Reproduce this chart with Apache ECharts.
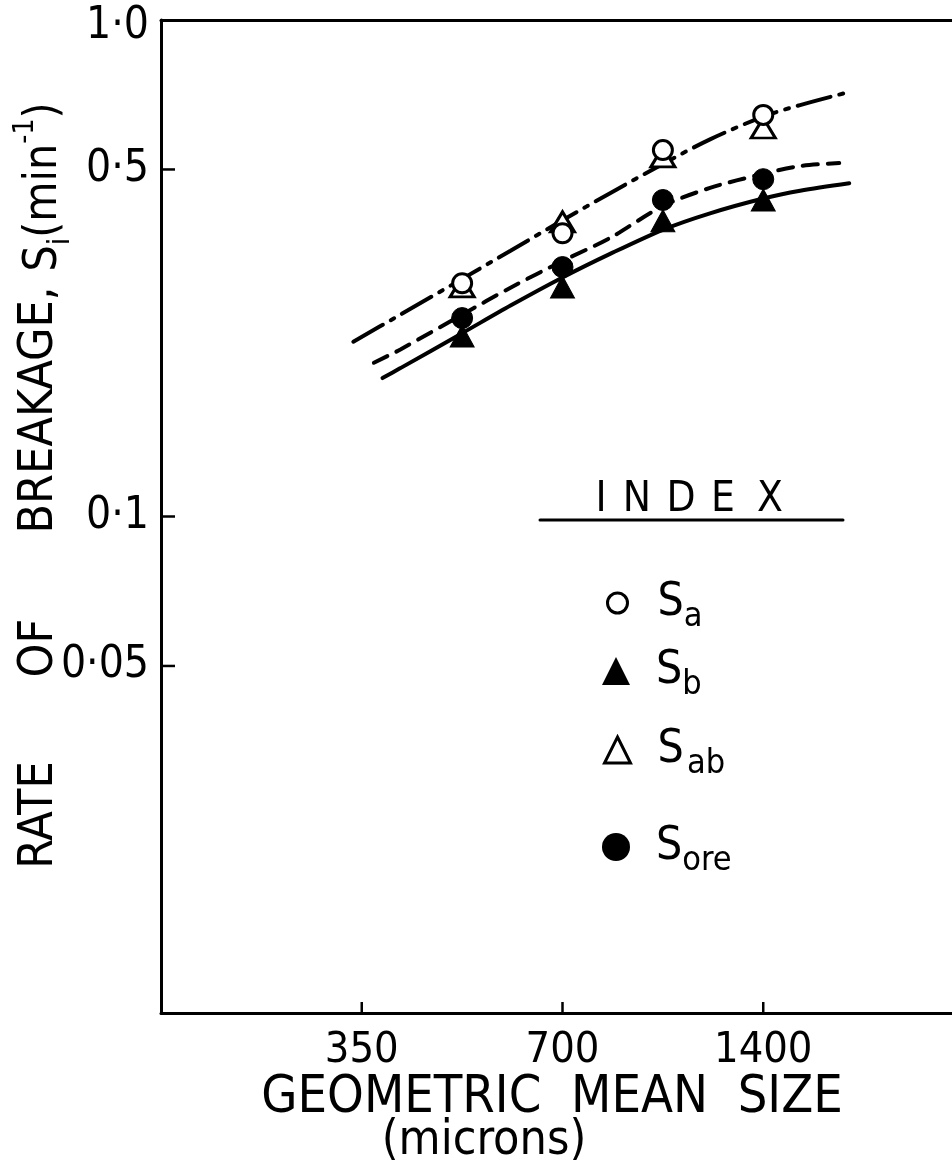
<!DOCTYPE html>
<html>
<head>
<meta charset="utf-8">
<script src="https://cdn.jsdelivr.net/npm/echarts@6/dist/echarts.min.js"></script>
<style>
  html, body { margin: 0; padding: 0; background: #fff; }
  #chart { width: 952px; height: 1169px; }
</style>
</head>
<body>
<div id="chart"></div>
<script>
// Measured rates of breakage vs. geometric mean particle size
const sizes = [495, 700, 990, 1400];
const sA   = [0.295, 0.372, 0.547, 0.644];
const sB   = [0.231, 0.290, 0.394, 0.434];
const sAB  = [0.290, 0.392, 0.530, 0.606];
const sOre = [0.251, 0.318, 0.434, 0.478];

// Fitted curves
const fitSizesAB  = [340, 400, 495, 585, 700, 825, 990, 1165, 1400, 1590, 1860];
const fitAB       = [0.225, 0.255, 0.301, 0.343, 0.395, 0.448, 0.513, 0.575, 0.639, 0.674, 0.713];
const fitSizesOre = [365, 400, 495, 585, 700, 825, 990, 1165, 1400, 1590, 1820];
const fitOre      = [0.204, 0.217, 0.255, 0.289, 0.327, 0.364, 0.422, 0.459, 0.490, 0.508, 0.515];
const fitSizesB   = [376, 400, 495, 585, 700, 825, 990, 1165, 1400, 1590, 1884];
const fitB        = [0.190, 0.199, 0.234, 0.266, 0.303, 0.338, 0.378, 0.408, 0.437, 0.453, 0.469];

// Axis ranges, ticks and labels
const xRange = [175, 2800];
const yRange = [0.01, 1];
const xTickValues = [350, 700, 1400];
const xTickLabels = ['350', '700', '1400'];
const yTickValues = [0.05, 0.1, 0.5];
const yLabelValues = [0.05, 0.1, 0.5, 1];
const yLabelTexts = ['0·05', '0·1', '0·5', '1·0'];

const FONT = '"Liberation Sans Narrow", "DejaVu Sans Condensed", "Liberation Sans", sans-serif';

const pairs = (xs, ys) => xs.map((x, i) => [x, ys[i]]);
const nearestIndex = (list, v) => {
  let best = 0;
  list.forEach((t, i) => {
    if (Math.abs(Math.log(t) - Math.log(v)) < Math.abs(Math.log(list[best]) - Math.log(v))) best = i;
  });
  return best;
};

const chart = echarts.init(document.getElementById('chart'), null, { renderer: 'canvas' });

const lineSeries = (name, xs, ys, type) => ({
  name: name,
  type: 'line',
  data: pairs(xs, ys),
  smooth: 0.3,
  showSymbol: false,
  symbol: 'none',
  silent: true,
  z: 2,
  lineStyle: { color: '#000', width: 4, type: type, cap: 'round' }
});

const markerSeries = (name, ys, symbol, size, filled, z) => ({
  name: name,
  type: 'scatter',
  data: pairs(sizes, ys),
  symbol: symbol,
  symbolSize: size,
  z: z,
  itemStyle: filled
    ? { color: '#000', borderColor: '#000', borderWidth: 1, opacity: 1 }
    : { color: '#fff', borderColor: '#000', borderWidth: 3, opacity: 1 }
});

// Inward tick marks, drawn at axis values with a fixed pixel length
const tickSeries = (points, dx, dy) => ({
  type: 'custom',
  coordinateSystem: 'cartesian2d',
  silent: true,
  clip: false,
  z: 6,
  data: points,
  renderItem: (params, api) => {
    const p = api.coord([api.value(0), api.value(1)]);
    return {
      type: 'line',
      shape: { x1: p[0], y1: p[1], x2: p[0] + dx, y2: p[1] + dy },
      style: { stroke: '#000', lineWidth: 2.5 }
    };
  }
});

const legendItem = (name, icon, style, cy, size) => ({
  orient: 'vertical',
  left: 616 - size / 2,
  top: cy - size / 2,
  padding: 0,
  itemWidth: size,
  itemHeight: size,
  selectedMode: false,
  data: [{ name: name, icon: icon, itemStyle: style }],
  formatter: n => '{gap|}' + ({ Sa: '{s|S}{sub|a}', Sb: '{s|S}{sub|b}', Sab: '{s|S} {sub|ab}', Sore: '{s|S}{sub|ore}' })[n],
  textStyle: {
    rich: {
      gap: { width: 656 - 616 - size / 2 - 5 },
      s: { fontFamily: FONT, fontSize: 46, color: '#000', lineHeight: 62 },
      sub: { fontFamily: FONT, fontSize: 34, color: '#000', lineHeight: 26, verticalAlign: 'bottom' }
    }
  }
});

const indexLetters = ['I', 'N', 'D', 'E', 'X'];
const indexX = [601, 637, 681, 723, 770];

const option = {
  backgroundColor: '#fff',
  animation: false,
  grid: { left: 161, top: 20, width: 803, height: 993, containLabel: false, outerBoundsMode: 'none' },
  xAxis: [{
    type: 'log',
    logBase: 2,
    min: xRange[0],
    max: xRange[1],
    axisLine: { show: true, lineStyle: { color: '#000', width: 3 } },
    axisTick: { show: false },
    axisLabel: {
      show: true, customValues: xTickValues, margin: 16,
      formatter: v => xTickLabels[nearestIndex(xTickValues, v)],
      color: '#000', fontFamily: FONT, fontSize: 43
    },
    splitLine: { show: false },
    minorTick: { show: false }
  }, {
    type: 'log',
    logBase: 2,
    min: xRange[0],
    max: xRange[1],
    position: 'top',
    axisLine: { show: true, onZero: false, lineStyle: { color: '#000', width: 3 } },
    axisTick: { show: false },
    axisLabel: { show: false },
    splitLine: { show: false }
  }],
  yAxis: {
    type: 'log',
    logBase: 10,
    min: yRange[0],
    max: yRange[1],
    axisLine: { show: true, lineStyle: { color: '#000', width: 3 } },
    axisTick: { show: false },
    axisLabel: {
      show: true, customValues: yLabelValues, margin: 12,
      formatter: v => {
        const i = nearestIndex(yLabelValues, v);
        return i === yLabelValues.length - 1 ? '{top|' + yLabelTexts[i] + '}' : yLabelTexts[i];
      },
      rich: { top: { fontFamily: FONT, fontSize: 44, color: '#000', padding: [14, 0, 0, 0] } },
      color: '#000', fontFamily: FONT, fontSize: 44
    },
    splitLine: { show: false },
    minorTick: { show: false }
  },
  legend: [
    legendItem('Sa', 'circle', { color: '#fff', borderColor: '#000', borderWidth: 3 }, 590, 20),
    legendItem('Sb', 'triangle', { color: '#000', borderColor: '#000', borderWidth: 0 }, 662, 28),
    legendItem('Sab', 'triangle', { color: '#fff', borderColor: '#000', borderWidth: 3 }, 740, 26),
    legendItem('Sore', 'circle', { color: '#000', borderColor: '#000', borderWidth: 0 }, 838, 28)
  ],
  graphic: [
    ...indexLetters.map((ch, i) => ({
      type: 'text', x: indexX[i], y: 500, z: 10,
      style: { text: ch, fontFamily: FONT, fontSize: 42, fill: '#000', align: 'center', verticalAlign: 'middle' }
    })),
    {
      type: 'line', z: 10,
      shape: { x1: 540, y1: 520, x2: 843, y2: 520 },
      style: { stroke: '#000', lineWidth: 3, lineCap: 'round' }
    },
    {
      type: 'text', x: 40, y: 815, rotation: Math.PI / 2,
      style: { text: 'RATE', fontFamily: FONT, fontSize: 48, fill: '#000', align: 'center', verticalAlign: 'middle' }
    },
    {
      type: 'text', x: 40, y: 648, rotation: Math.PI / 2,
      style: { text: 'OF', fontFamily: FONT, fontSize: 48, fill: '#000', align: 'center', verticalAlign: 'middle' }
    },
    {
      type: 'text', x: 40, y: 410, rotation: Math.PI / 2,
      style: { text: 'BREAKAGE,', fontFamily: FONT, fontSize: 48, fill: '#000', align: 'center', verticalAlign: 'middle' }
    },
    {
      type: 'text', x: 44, y: 187, rotation: Math.PI / 2,
      style: {
        text: '{m|S}{sub|i}{m|(min}{sup|-1}{m|)}',
        align: 'center', verticalAlign: 'middle',
        rich: {
          m: { fontFamily: FONT, fontSize: 46, color: '#000', lineHeight: 64 },
          sub: { fontFamily: FONT, fontSize: 30, color: '#000', lineHeight: 24, verticalAlign: 'bottom' },
          sup: { fontFamily: FONT, fontSize: 28, color: '#000', lineHeight: 24, verticalAlign: 'top' }
        }
      }
    },
    {
      type: 'text', x: 552, y: 1098,
      style: { text: 'GEOMETRIC  MEAN  SIZE', fontFamily: FONT, fontSize: 52, fill: '#000', align: 'center', verticalAlign: 'middle' }
    },
    {
      type: 'text', x: 484, y: 1142,
      style: { text: '(microns)', fontFamily: FONT, fontSize: 48, fill: '#000', align: 'center', verticalAlign: 'middle' }
    }
  ],
  series: [
    lineSeries('fitAB', fitSizesAB, fitAB, [34, 9, 4, 9]),
    lineSeries('fitOre', fitSizesOre, fitOre, [15, 10]),
    lineSeries('fitB', fitSizesB, fitB, 'solid'),
    markerSeries('Sab', sAB, 'triangle', [24, 20], false, 4),
    markerSeries('Sa', sA, 'circle', 19, false, 5),
    markerSeries('Sb', sB, 'triangle', [24, 22], true, 4),
    markerSeries('Sore', sOre, 'circle', 21, true, 5),
    tickSeries(xTickValues.map(v => [v, yRange[0]]), 0, -11),
    tickSeries(yTickValues.map(v => [xRange[0], v]), 14, 0)
  ]
};

chart.setOption(option);
</script>
</body>
</html>
